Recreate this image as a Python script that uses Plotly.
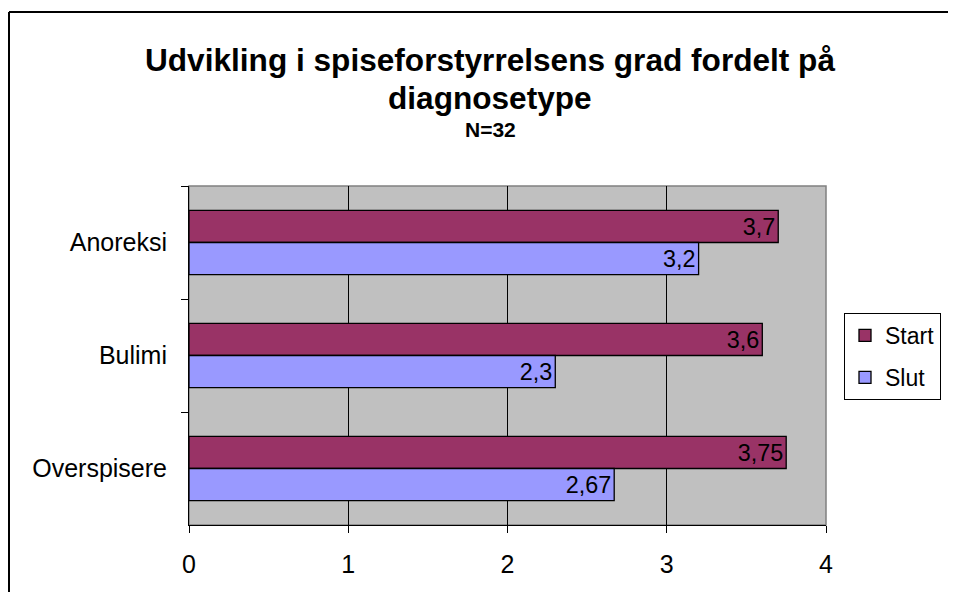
import plotly.graph_objects as go

CATEGORIES = ["Anoreksi", "Bulimi", "Overspisere"]
START = [3.7, 3.6, 3.75]
SLUT = [3.2, 2.3, 2.67]
X_TICKS = [0, 1, 2, 3, 4]

FONT = "Liberation Sans, Arial, sans-serif"

# the page adds an 8px body margin; keep the figure inside the window
W, H = 940, 584
L, T, PW, PH = 181, 178, 637, 339


def px(x):
    """screen x (reference pixels) -> paper x"""
    return (x - 8 - L) / PW


def py(y):
    """screen y (reference pixels) -> paper y"""
    return (T + PH - (y - 8)) / PH


def label(values):
    return [str(v).replace(".", ",") for v in values]


fig = go.Figure()
for name, values, color in [("Start", START, "#993366"), ("Slut", SLUT, "#9999FF")]:
    fig.add_trace(
        go.Bar(
            y=CATEGORIES,
            x=values,
            name=name,
            legendgroup=name,
            orientation="h",
            marker=dict(color=color, line=dict(color="black", width=1.3)),
            text=label(values),
            textposition="inside",
            insidetextanchor="end",
            textfont=dict(color="black", size=25, family=FONT),
            cliponaxis=False,
        )
    )

# outer chart border (only top and left edges are in view) and plot-area frame
fig.add_shape(type="line", xref="paper", yref="paper",
              x0=px(9), x1=px(1000), y0=py(12), y1=py(12),
              line=dict(color="black", width=2), layer="below")
fig.add_shape(type="line", xref="paper", yref="paper",
              x0=px(9), x1=px(9), y0=py(12), y1=py(700),
              line=dict(color="black", width=2), layer="below")
fig.add_shape(type="rect", xref="paper", yref="paper",
              x0=0, x1=1, y0=0, y1=1,
              line=dict(color="#808080", width=1.5), layer="below")

# title lines
for text, y, size in [
    ("<b>Udvikling i spiseforstyrrelsens grad fordelt på</b>", 60, 31.6),
    ("<b>diagnosetype</b>", 98, 31.6),
    ("<b>N=32</b>", 130, 21),
]:
    fig.add_annotation(
        text=text, xref="paper", yref="paper",
        x=px(490), y=py(y),
        xanchor="center", yanchor="middle", showarrow=False,
        font=dict(size=size, color="black", family=FONT),
    )

fig.update_layout(
    width=W,
    height=H,
    barmode="group",
    bargap=0.43,
    bargroupgap=0,
    plot_bgcolor="#C0C0C0",
    paper_bgcolor="white",
    font=dict(family=FONT, color="black", size=25),
    margin=dict(l=L, r=W - L - PW, t=T, b=H - T - PH, pad=0, autoexpand=False),
    showlegend=True,
    legend=dict(
        x=px(844), y=py(313),
        xanchor="left", yanchor="top",
        bordercolor="black", borderwidth=1,
        bgcolor="white",
        font=dict(size=23, family=FONT),
        itemwidth=30,
        traceorder="grouped",
        tracegroupgap=9,
    ),
    xaxis=dict(
        range=[0, 4],
        tickvals=X_TICKS,
        showgrid=True, gridcolor="black", gridwidth=1,
        zeroline=False,
        showline=True, linecolor="black", linewidth=1,
        ticks="outside", ticklen=7, tickcolor="black",
        tickfont=dict(size=25),
        ticklabelstandoff=10,
    ),
    yaxis=dict(
        autorange="reversed",
        tickson="boundaries",
        showgrid=False,
        showline=True, linecolor="black", linewidth=1,
        ticks="outside", ticklen=7, tickcolor="black",
        tickfont=dict(size=25),
        ticklabelstandoff=16,
    ),
)

fig.write_html("out.html")
